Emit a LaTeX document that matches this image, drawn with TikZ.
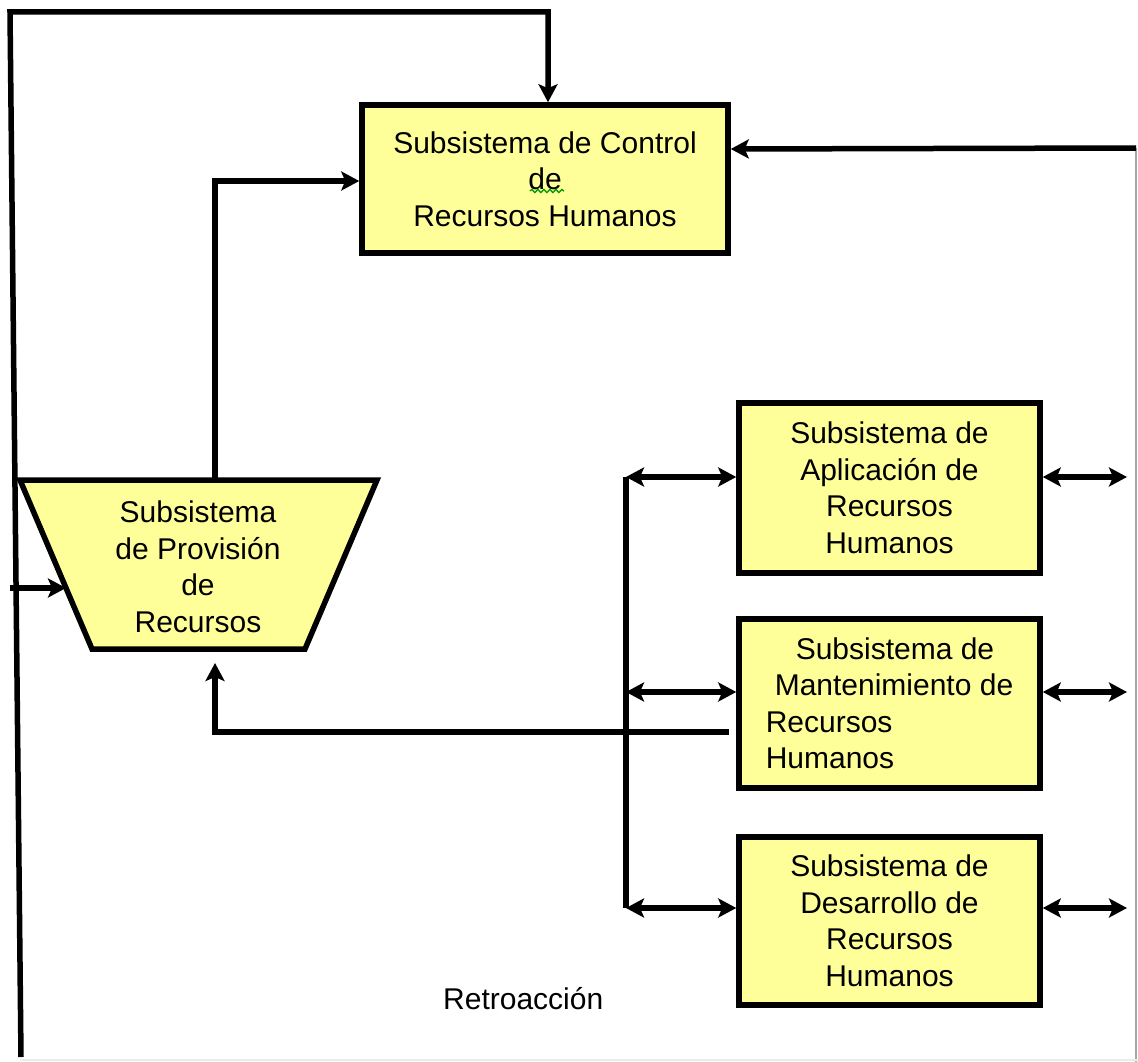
\documentclass[tikz,border=0pt]{standalone}
\usepackage{fontspec}
\setmainfont{Liberation Sans}
\usetikzlibrary{arrows.meta,decorations.pathmorphing}
\definecolor{boxyellow}{RGB}{255,255,153}
\begin{document}
\begin{tikzpicture}[x=1pt,y=-1pt,
  sysbox/.style={draw=black, fill=boxyellow, line width=5.5pt, rectangle, inner sep=0pt,
    font=\fontsize{30}{36.5}\selectfont, align=center},
  conn/.style={line width=5.5pt, draw=black},
  tip/.style={-{Stealth[length=18pt,width=19pt,inset=4pt]}},
  dtip/.style={{Stealth[length=18pt,width=19pt,inset=4pt]}-{Stealth[length=18pt,width=19pt,inset=4pt]}},
  lbl/.style={font=\fontsize{30}{36.5}\selectfont, align=center, inner sep=0pt}]
\useasboundingbox (0,0) rectangle (1138,1062);
\fill[white] (0,0) rectangle (1138,1062);

% frame-like faint lines
\draw[gray!70, line width=2pt] (1136,148) coordinate (rtop) -- (1136,1062) coordinate (rbot);
\draw[gray!15, line width=1.5pt] (20,1060) coordinate (bl) -- (1138,1060) coordinate (br);

% boxes
\node[sysbox, minimum width=366pt, minimum height=148pt] (ctrl) at (545,179)
  {Subsistema de Control\\de\\Recursos Humanos};
\draw[green!60!black, line width=1.3pt, decorate,
  decoration={snake, amplitude=1.6pt, segment length=6pt}] (530,191) -- (564,191);

\node[sysbox, minimum width=301pt, minimum height=170pt] (apl) at (889.5,488)
  {Subsistema de\\Aplicación de\\Recursos\\Humanos};
\node[sysbox, minimum width=301pt, minimum height=169pt, align=left] (man) at (889.5,703.5)
  {\hspace*{30pt}Subsistema de\\\hspace*{9pt}Mantenimiento de\\Recursos\\Humanos};
\node[sysbox, minimum width=301pt, minimum height=168pt] (des) at (889.5,921)
  {Subsistema de\\Desarrollo de\\Recursos\\Humanos};

% trapezoid
\draw[line width=5.5pt, fill=boxyellow, line join=miter]
  (20,480) coordinate (pTL) -- (377,480) coordinate (pTR) --
  (305,649) coordinate (pBR) -- (92,649) coordinate (pBL) -- cycle;
\node[lbl] (prov) at (198,567) {Subsistema\\de Provisión\\de\\Recursos};

% left long line and top loop
\coordinate (lbot) at (21,1057);
\coordinate (ltop) at (10,12);
\coordinate (ttop) at (548,12);
\draw[conn, tip] (lbot) -- (ltop) -- (ttop) -- (ttop |- ctrl.north);

% input arrow into trapezoid
\coordinate (inA) at (10,588);
\coordinate (inB) at (66,588);
\draw[conn, tip] (inA) -- (inB);

% provision to control
\coordinate (pv) at (215,480);
\coordinate (pc) at (215,181);
\draw[conn, tip] (pv) -- (pc) -- (pc -| ctrl.west);

% right line into control
\draw[conn, tip] (rtop) -- (ctrl.east |- 0,149);

% bus
\coordinate (busT) at (626,477);
\coordinate (busM) at (626,692);
\coordinate (busB) at (626,908);
\draw[conn] (busT) -- (busB);
\draw[conn, dtip] (busT) -- (busT -| apl.west);
\draw[conn, dtip] (busM) -- (busM -| man.west);
\draw[conn, dtip] (busB) -- (busB -| des.west);

% right double arrows
\coordinate (rA) at (1127,477);
\coordinate (rM) at (1127,692);
\coordinate (rD) at (1127,908);
\draw[conn, dtip] (rA -| apl.east) -- (rA);
\draw[conn, dtip] (rM -| man.east) -- (rM);
\draw[conn, dtip] (rD -| des.east) -- (rD);

% feedback to provision
\coordinate (fbA) at (729,732);
\coordinate (fbB) at (215,732);
\coordinate (fbC) at (215,663);
\draw[conn, tip] (fbA) -- (fbB) -- (fbC);

\node[lbl, anchor=west] (retro) at (443,999) {Retroacción};
\end{tikzpicture}
\end{document}
